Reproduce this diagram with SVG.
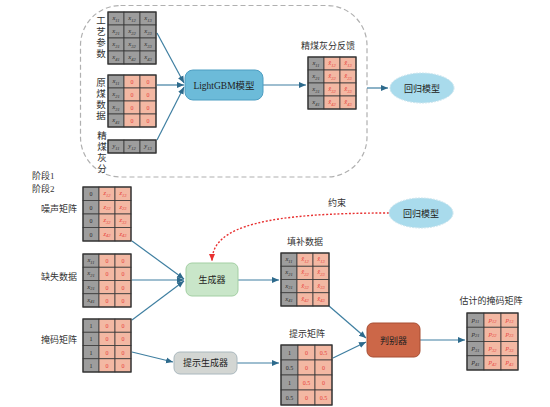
<svg xmlns="http://www.w3.org/2000/svg" width="550" height="407" viewBox="0 0 550 407">
<style>
.g{fill:#9d9d9d;stroke:#3a3a3a;stroke-width:0.8}
.p{fill:#f3b8a3;stroke:#3a3a3a;stroke-width:0.8}
.ob{fill:none;stroke:#333;stroke-width:1.2}
.ct{font-family:"Liberation Serif",serif;font-size:6.5px;font-style:italic;text-anchor:middle;fill:#2a2a2a}
.cn{font-family:"Liberation Serif",serif;font-size:6px;text-anchor:middle;fill:#2a2a2a}
.r{fill:#e8403a}
.lb{font-family:"Liberation Serif","Noto Sans CJK SC",serif;font-size:9px;fill:#333;text-anchor:middle}
.vl{font-family:"Liberation Serif","Noto Sans CJK SC",serif;font-size:9.5px;fill:#333;text-anchor:middle}
.bt{font-family:"Liberation Serif","Noto Sans CJK SC",serif;font-size:9px;fill:#222;text-anchor:middle}
.cl{fill:none;stroke:#3f7fa1;stroke-width:1.2;marker-end:url(#ah)}
.s{font-size:4.5px}
</style>
<defs>
<marker id="ah" markerUnits="userSpaceOnUse" markerWidth="8" markerHeight="8" refX="7" refY="4" orient="auto">
<path d="M0,1 L7,4 L0,7 Z" fill="#2d6a8c"/>
</marker>
<marker id="ahr" markerUnits="userSpaceOnUse" markerWidth="8" markerHeight="8" refX="7" refY="4" orient="auto">
<path d="M0,1 L7,4 L0,7 Z" fill="#e83030"/>
</marker>
</defs>

<rect x="80.5" y="5.5" width="286.5" height="171.5" rx="40" fill="none" stroke="#b0b0b0" stroke-width="1.2" stroke-dasharray="5,3"/>

<g id="connectors">
<path class="cl" d="M157,33 L184,83"/>
<path class="cl" d="M157,85 L184,85"/>
<path class="cl" d="M157,140 L184,87"/>
<path class="cl" d="M263,85 L306,85"/>
<path class="cl" d="M367,88 L388,88"/>
<path class="cl" d="M132,241 L184,279"/>
<path class="cl" d="M132,280 L184,280"/>
<path class="cl" d="M132,320 L184,281"/>
<path class="cl" d="M238,280 L279,280"/>
<path class="cl" d="M132,352 L173,362"/>
<path class="cl" d="M237,363 L279,363"/>
<path class="cl" d="M329,306 L366,338"/>
<path class="cl" d="M333,358 L366,342"/>
<path class="cl" d="M420,340 L465,340"/>
<path d="M389,213 C 270,213 212,225 212,261" fill="none" stroke="#e83030" stroke-width="1.4" stroke-dasharray="2,1.8" marker-end="url(#ahr)"/>
<text class="lb" x="337" y="206">约束</text>
</g>

<!-- 工艺参数 -->
<g id="process-params">
<text class="vl" x="101" y="24">工</text><text class="vl" x="101" y="35">艺</text><text class="vl" x="101" y="46">参</text><text class="vl" x="101" y="57">数</text>
<rect class="g" x="108" y="12" width="16" height="13"/><rect class="g" x="124" y="12" width="16" height="13"/><rect class="g" x="140" y="12" width="16" height="13"/>
<rect class="g" x="108" y="25" width="16" height="13"/><rect class="g" x="124" y="25" width="16" height="13"/><rect class="g" x="140" y="25" width="16" height="13"/>
<rect class="g" x="108" y="38" width="16" height="13"/><rect class="g" x="124" y="38" width="16" height="13"/><rect class="g" x="140" y="38" width="16" height="13"/>
<rect class="g" x="108" y="51" width="16" height="13"/><rect class="g" x="124" y="51" width="16" height="13"/><rect class="g" x="140" y="51" width="16" height="13"/>
<rect class="ob" x="108" y="12" width="48" height="52"/>
<text class="ct" x="116" y="20">x<tspan class="s" dy="1.5">11</tspan></text><text class="ct" x="132" y="20">x<tspan class="s" dy="1.5">12</tspan></text><text class="ct" x="148" y="20">x<tspan class="s" dy="1.5">13</tspan></text>
<text class="ct" x="116" y="33">x<tspan class="s" dy="1.5">21</tspan></text><text class="ct" x="132" y="33">x<tspan class="s" dy="1.5">22</tspan></text><text class="ct" x="148" y="33">x<tspan class="s" dy="1.5">23</tspan></text>
<text class="ct" x="116" y="46">x<tspan class="s" dy="1.5">31</tspan></text><text class="ct" x="132" y="46">x<tspan class="s" dy="1.5">32</tspan></text><text class="ct" x="148" y="46">x<tspan class="s" dy="1.5">33</tspan></text>
<text class="ct" x="116" y="59">x<tspan class="s" dy="1.5">41</tspan></text><text class="ct" x="132" y="59">x<tspan class="s" dy="1.5">42</tspan></text><text class="ct" x="148" y="59">x<tspan class="s" dy="1.5">43</tspan></text>
</g>

<!-- 原煤数据 -->
<g id="raw-coal">
<text class="vl" x="101" y="86">原</text><text class="vl" x="101" y="97">煤</text><text class="vl" x="101" y="108">数</text><text class="vl" x="101" y="119">据</text>
<rect class="g" x="108" y="75" width="16" height="13"/><rect class="p" x="124" y="75" width="16" height="13"/><rect class="p" x="140" y="75" width="16" height="13"/>
<rect class="g" x="108" y="88" width="16" height="13"/><rect class="p" x="124" y="88" width="16" height="13"/><rect class="p" x="140" y="88" width="16" height="13"/>
<rect class="g" x="108" y="101" width="16" height="13"/><rect class="p" x="124" y="101" width="16" height="13"/><rect class="p" x="140" y="101" width="16" height="13"/>
<rect class="g" x="108" y="114" width="16" height="13"/><rect class="p" x="124" y="114" width="16" height="13"/><rect class="p" x="140" y="114" width="16" height="13"/>
<rect class="ob" x="108" y="75" width="48" height="52"/>
<text class="ct" x="116" y="83">x<tspan class="s" dy="1.5">11</tspan></text><text class="cn r" x="132" y="84">0</text><text class="cn r" x="148" y="84">0</text>
<text class="ct" x="116" y="96">x<tspan class="s" dy="1.5">21</tspan></text><text class="cn r" x="132" y="97">0</text><text class="cn r" x="148" y="97">0</text>
<text class="ct" x="116" y="109">x<tspan class="s" dy="1.5">31</tspan></text><text class="cn r" x="132" y="110">0</text><text class="cn r" x="148" y="110">0</text>
<text class="ct" x="116" y="122">x<tspan class="s" dy="1.5">41</tspan></text><text class="cn r" x="132" y="123">0</text><text class="cn r" x="148" y="123">0</text>
</g>

<!-- 精煤灰分 -->
<g id="clean-coal-ash">
<text class="vl" x="102" y="139">精</text><text class="vl" x="102" y="150">煤</text><text class="vl" x="102" y="161">灰</text><text class="vl" x="102" y="172">分</text>
<rect class="g" x="108" y="140" width="16" height="13"/><rect class="g" x="124" y="140" width="16" height="13"/><rect class="g" x="140" y="140" width="16" height="13"/>
<rect class="ob" x="108" y="140" width="48" height="13"/>
<text class="ct" x="116" y="148">y<tspan class="s" dy="1.5">11</tspan></text><text class="ct" x="132" y="148">y<tspan class="s" dy="1.5">12</tspan></text><text class="ct" x="148" y="148">y<tspan class="s" dy="1.5">13</tspan></text>
</g>

<g id="lightgbm">
<rect x="185" y="70" width="78" height="30" rx="8" fill="#6cbbd9" stroke="#4d9ec2" stroke-width="1"/>
<text class="bt" x="224" y="88.5" style="font-size:9.5px">LightGBM模型</text>
</g>

<!-- 精煤灰分反馈 -->
<g id="feedback">
<text class="lb" x="328" y="49">精煤灰分反馈</text>
<rect class="g" x="308" y="57" width="16" height="13"/><rect class="p" x="324" y="57" width="16" height="13"/><rect class="p" x="340" y="57" width="16" height="13"/>
<rect class="g" x="308" y="70" width="16" height="13"/><rect class="p" x="324" y="70" width="16" height="13"/><rect class="p" x="340" y="70" width="16" height="13"/>
<rect class="g" x="308" y="83" width="16" height="13"/><rect class="p" x="324" y="83" width="16" height="13"/><rect class="p" x="340" y="83" width="16" height="13"/>
<rect class="g" x="308" y="96" width="16" height="13"/><rect class="p" x="324" y="96" width="16" height="13"/><rect class="p" x="340" y="96" width="16" height="13"/>
<rect class="ob" x="308" y="57" width="48" height="52"/>
<text class="ct" x="316" y="65">x<tspan class="s" dy="1.5">11</tspan></text><text class="ct r" x="332" y="65">x̂<tspan class="s" dy="1.5">12</tspan></text><text class="ct r" x="348" y="65">x̂<tspan class="s" dy="1.5">13</tspan></text>
<text class="ct" x="316" y="78">x<tspan class="s" dy="1.5">21</tspan></text><text class="ct r" x="332" y="78">x̂<tspan class="s" dy="1.5">22</tspan></text><text class="ct r" x="348" y="78">x̂<tspan class="s" dy="1.5">23</tspan></text>
<text class="ct" x="316" y="91">x<tspan class="s" dy="1.5">31</tspan></text><text class="ct r" x="332" y="91">x̂<tspan class="s" dy="1.5">32</tspan></text><text class="ct r" x="348" y="91">x̂<tspan class="s" dy="1.5">33</tspan></text>
<text class="ct" x="316" y="104">x<tspan class="s" dy="1.5">41</tspan></text><text class="ct r" x="332" y="104">x̂<tspan class="s" dy="1.5">42</tspan></text><text class="ct r" x="348" y="104">x̂<tspan class="s" dy="1.5">43</tspan></text>
</g>

<g id="regression1">
<ellipse cx="422" cy="88" rx="32" ry="15" fill="#a9dbec" stroke="#c8e4ee" stroke-width="1" stroke-dasharray="2,1"/>
<text class="bt" x="422" y="91.5">回归模型</text>
</g>

<g id="stages">
<text class="lb" x="32" y="179" style="text-anchor:start">阶段1</text>
<text class="lb" x="32" y="192" style="text-anchor:start">阶段2</text>
</g>

<!-- 噪声矩阵 -->
<g id="noise">
<text class="lb" x="59" y="212">噪声矩阵</text>
<rect class="g" x="83" y="187" width="16" height="13.5"/><rect class="p" x="99" y="187" width="16" height="13.5"/><rect class="p" x="115" y="187" width="16" height="13.5"/>
<rect class="g" x="83" y="200.5" width="16" height="13.5"/><rect class="p" x="99" y="200.5" width="16" height="13.5"/><rect class="p" x="115" y="200.5" width="16" height="13.5"/>
<rect class="g" x="83" y="214" width="16" height="13.5"/><rect class="p" x="99" y="214" width="16" height="13.5"/><rect class="p" x="115" y="214" width="16" height="13.5"/>
<rect class="g" x="83" y="227.5" width="16" height="13.5"/><rect class="p" x="99" y="227.5" width="16" height="13.5"/><rect class="p" x="115" y="227.5" width="16" height="13.5"/>
<rect class="ob" x="83" y="187" width="48" height="54"/>
<text class="cn" x="91" y="196">0</text><text class="ct r" x="107" y="195">z<tspan class="s" dy="1.5">12</tspan></text><text class="ct r" x="123" y="195">z<tspan class="s" dy="1.5">13</tspan></text>
<text class="cn" x="91" y="209.5">0</text><text class="ct r" x="107" y="208.5">z<tspan class="s" dy="1.5">22</tspan></text><text class="ct r" x="123" y="208.5">z<tspan class="s" dy="1.5">23</tspan></text>
<text class="cn" x="91" y="223">0</text><text class="ct r" x="107" y="222">z<tspan class="s" dy="1.5">32</tspan></text><text class="ct r" x="123" y="222">z<tspan class="s" dy="1.5">33</tspan></text>
<text class="cn" x="91" y="236.5">0</text><text class="ct r" x="107" y="235.5">z<tspan class="s" dy="1.5">42</tspan></text><text class="ct r" x="123" y="235.5">z<tspan class="s" dy="1.5">43</tspan></text>
</g>

<!-- 缺失数据 -->
<g id="missing">
<text class="lb" x="59" y="280">缺失数据</text>
<rect class="g" x="83" y="254" width="16" height="13.25"/><rect class="p" x="99" y="254" width="16" height="13.25"/><rect class="p" x="115" y="254" width="16" height="13.25"/>
<rect class="g" x="83" y="267.25" width="16" height="13.25"/><rect class="p" x="99" y="267.25" width="16" height="13.25"/><rect class="p" x="115" y="267.25" width="16" height="13.25"/>
<rect class="g" x="83" y="280.5" width="16" height="13.25"/><rect class="p" x="99" y="280.5" width="16" height="13.25"/><rect class="p" x="115" y="280.5" width="16" height="13.25"/>
<rect class="g" x="83" y="293.75" width="16" height="13.25"/><rect class="p" x="99" y="293.75" width="16" height="13.25"/><rect class="p" x="115" y="293.75" width="16" height="13.25"/>
<rect class="ob" x="83" y="254" width="48" height="53"/>
<text class="ct" x="91" y="262">x<tspan class="s" dy="1.5">11</tspan></text><text class="cn r" x="107" y="263">0</text><text class="cn r" x="123" y="263">0</text>
<text class="ct" x="91" y="275">x<tspan class="s" dy="1.5">21</tspan></text><text class="cn r" x="107" y="276">0</text><text class="cn r" x="123" y="276">0</text>
<text class="ct" x="91" y="288.5">x<tspan class="s" dy="1.5">31</tspan></text><text class="cn r" x="107" y="289.5">0</text><text class="cn r" x="123" y="289.5">0</text>
<text class="ct" x="91" y="301.5">x<tspan class="s" dy="1.5">41</tspan></text><text class="cn r" x="107" y="302.5">0</text><text class="cn r" x="123" y="302.5">0</text>
</g>

<!-- 掩码矩阵 -->
<g id="mask">
<text class="lb" x="59" y="343">掩码矩阵</text>
<rect class="g" x="83" y="319" width="16" height="13.25"/><rect class="p" x="99" y="319" width="16" height="13.25"/><rect class="p" x="115" y="319" width="16" height="13.25"/>
<rect class="g" x="83" y="332.25" width="16" height="13.25"/><rect class="p" x="99" y="332.25" width="16" height="13.25"/><rect class="p" x="115" y="332.25" width="16" height="13.25"/>
<rect class="g" x="83" y="345.5" width="16" height="13.25"/><rect class="p" x="99" y="345.5" width="16" height="13.25"/><rect class="p" x="115" y="345.5" width="16" height="13.25"/>
<rect class="g" x="83" y="358.75" width="16" height="13.25"/><rect class="p" x="99" y="358.75" width="16" height="13.25"/><rect class="p" x="115" y="358.75" width="16" height="13.25"/>
<rect class="ob" x="83" y="319" width="48" height="53"/>
<text class="cn" x="91" y="328">1</text><text class="cn r" x="107" y="328">0</text><text class="cn r" x="123" y="328">0</text>
<text class="cn" x="91" y="341">1</text><text class="cn r" x="107" y="341">0</text><text class="cn r" x="123" y="341">0</text>
<text class="cn" x="91" y="354.5">1</text><text class="cn r" x="107" y="354.5">0</text><text class="cn r" x="123" y="354.5">0</text>
<text class="cn" x="91" y="367.5">1</text><text class="cn r" x="107" y="367.5">0</text><text class="cn r" x="123" y="367.5">0</text>
</g>

<g id="generator">
<rect x="186" y="263" width="52" height="33" rx="6" fill="#c9e6c9" stroke="#a3cfa3" stroke-width="1"/>
<text class="bt" x="212" y="283">生成器</text>
</g>

<g id="regression2">
<ellipse cx="421" cy="213" rx="32" ry="15" fill="#a9dbec" stroke="#c8e4ee" stroke-width="1" stroke-dasharray="2,1"/>
<text class="bt" x="421" y="216.5">回归模型</text>
</g>

<!-- 填补数据 -->
<g id="imputed">
<text class="lb" x="305" y="245">填补数据</text>
<rect class="g" x="281" y="253" width="16" height="13.25"/><rect class="p" x="297" y="253" width="16" height="13.25"/><rect class="p" x="313" y="253" width="16" height="13.25"/>
<rect class="g" x="281" y="266.25" width="16" height="13.25"/><rect class="p" x="297" y="266.25" width="16" height="13.25"/><rect class="p" x="313" y="266.25" width="16" height="13.25"/>
<rect class="g" x="281" y="279.5" width="16" height="13.25"/><rect class="p" x="297" y="279.5" width="16" height="13.25"/><rect class="p" x="313" y="279.5" width="16" height="13.25"/>
<rect class="g" x="281" y="292.75" width="16" height="13.25"/><rect class="p" x="297" y="292.75" width="16" height="13.25"/><rect class="p" x="313" y="292.75" width="16" height="13.25"/>
<rect class="ob" x="281" y="253" width="48" height="53"/>
<text class="ct" x="289" y="261">x<tspan class="s" dy="1.5">11</tspan></text><text class="ct r" x="305" y="261">x̂<tspan class="s" dy="1.5">12</tspan></text><text class="ct r" x="321" y="261">x̂<tspan class="s" dy="1.5">13</tspan></text>
<text class="ct" x="289" y="274">x<tspan class="s" dy="1.5">21</tspan></text><text class="ct r" x="305" y="274">x̂<tspan class="s" dy="1.5">22</tspan></text><text class="ct r" x="321" y="274">x̂<tspan class="s" dy="1.5">23</tspan></text>
<text class="ct" x="289" y="287.5">x<tspan class="s" dy="1.5">31</tspan></text><text class="ct r" x="305" y="287.5">x̂<tspan class="s" dy="1.5">32</tspan></text><text class="ct r" x="321" y="287.5">x̂<tspan class="s" dy="1.5">33</tspan></text>
<text class="ct" x="289" y="300.5">x<tspan class="s" dy="1.5">41</tspan></text><text class="ct r" x="305" y="300.5">x̂<tspan class="s" dy="1.5">42</tspan></text><text class="ct r" x="321" y="300.5">x̂<tspan class="s" dy="1.5">43</tspan></text>
</g>

<g id="hint-generator">
<rect x="174" y="352" width="63" height="22" rx="6" fill="#d3d6d3" stroke="#aab8be" stroke-width="1"/>
<text class="bt" x="205.5" y="366">提示生成器</text>
</g>

<!-- 提示矩阵 -->
<g id="hint-matrix">
<text class="lb" x="307" y="337">提示矩阵</text>
<rect class="g" x="281" y="345" width="17" height="15"/><rect class="p" x="298" y="345" width="17" height="15"/><rect class="p" x="315" y="345" width="17" height="15"/>
<rect class="g" x="281" y="360" width="17" height="15"/><rect class="p" x="298" y="360" width="17" height="15"/><rect class="p" x="315" y="360" width="17" height="15"/>
<rect class="g" x="281" y="375" width="17" height="15"/><rect class="p" x="298" y="375" width="17" height="15"/><rect class="p" x="315" y="375" width="17" height="15"/>
<rect class="g" x="281" y="390" width="17" height="15"/><rect class="p" x="298" y="390" width="17" height="15"/><rect class="p" x="315" y="390" width="17" height="15"/>
<rect class="ob" x="281" y="345" width="51" height="60"/>
<text class="cn" x="289.5" y="354.5">1</text><text class="cn r" x="306.5" y="354.5">0</text><text class="cn r" x="323.5" y="354.5">0.5</text>
<text class="cn" x="289.5" y="369.5">0.5</text><text class="cn r" x="306.5" y="369.5">0</text><text class="cn r" x="323.5" y="369.5">0</text>
<text class="cn" x="289.5" y="384.5">1</text><text class="cn r" x="306.5" y="384.5">0.5</text><text class="cn r" x="323.5" y="384.5">0</text>
<text class="cn" x="289.5" y="399.5">0.5</text><text class="cn r" x="306.5" y="399.5">0</text><text class="cn r" x="323.5" y="399.5">0.5</text>
</g>

<g id="discriminator">
<rect x="367" y="323" width="53" height="34" rx="6" fill="#cc6748" stroke="#a84e33" stroke-width="1"/>
<text class="bt" x="393.5" y="343.5">判别器</text>
</g>

<!-- 估计的掩码矩阵 -->
<g id="estimated-mask">
<text class="lb" x="491" y="304">估计的掩码矩阵</text>
<rect class="g" x="467" y="313" width="17" height="14.25"/><rect class="p" x="484" y="313" width="17" height="14.25"/><rect class="p" x="501" y="313" width="17" height="14.25"/>
<rect class="g" x="467" y="327.25" width="17" height="14.25"/><rect class="p" x="484" y="327.25" width="17" height="14.25"/><rect class="p" x="501" y="327.25" width="17" height="14.25"/>
<rect class="g" x="467" y="341.5" width="17" height="14.25"/><rect class="p" x="484" y="341.5" width="17" height="14.25"/><rect class="p" x="501" y="341.5" width="17" height="14.25"/>
<rect class="g" x="467" y="355.75" width="17" height="14.25"/><rect class="p" x="484" y="355.75" width="17" height="14.25"/><rect class="p" x="501" y="355.75" width="17" height="14.25"/>
<rect class="ob" x="467" y="313" width="51" height="57"/>
<text class="ct" x="475.5" y="321.5">p<tspan class="s" dy="1.5">11</tspan></text><text class="ct r" x="492.5" y="321.5">p<tspan class="s" dy="1.5">12</tspan></text><text class="ct r" x="509.5" y="321.5">p<tspan class="s" dy="1.5">13</tspan></text>
<text class="ct" x="475.5" y="335.5">p<tspan class="s" dy="1.5">21</tspan></text><text class="ct r" x="492.5" y="335.5">p<tspan class="s" dy="1.5">22</tspan></text><text class="ct r" x="509.5" y="335.5">p<tspan class="s" dy="1.5">23</tspan></text>
<text class="ct" x="475.5" y="350">p<tspan class="s" dy="1.5">31</tspan></text><text class="ct r" x="492.5" y="350">p<tspan class="s" dy="1.5">32</tspan></text><text class="ct r" x="509.5" y="350">p<tspan class="s" dy="1.5">33</tspan></text>
<text class="ct" x="475.5" y="364">p<tspan class="s" dy="1.5">41</tspan></text><text class="ct r" x="492.5" y="364">p<tspan class="s" dy="1.5">42</tspan></text><text class="ct r" x="509.5" y="364">p<tspan class="s" dy="1.5">43</tspan></text>
</g>
</svg>
